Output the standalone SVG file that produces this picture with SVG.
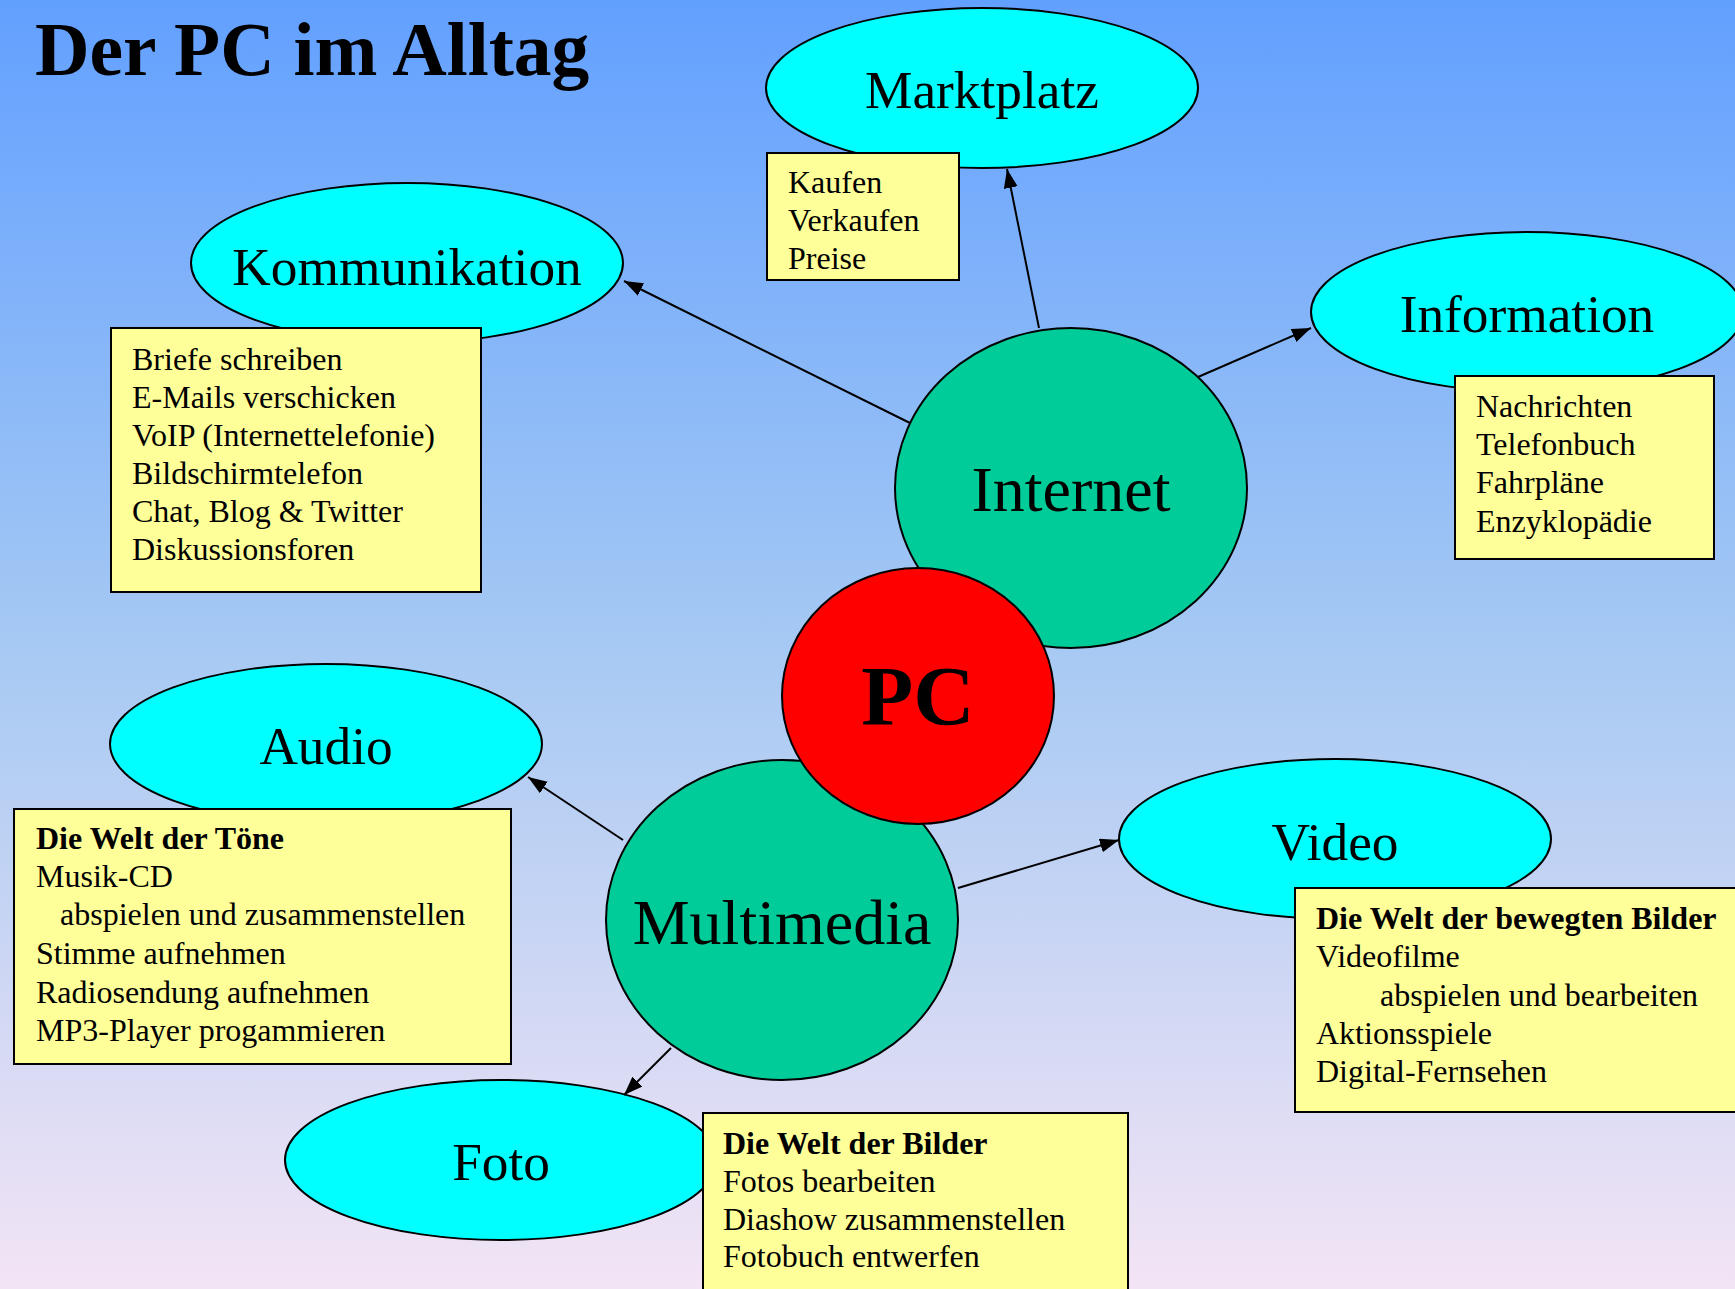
<svg xmlns="http://www.w3.org/2000/svg" width="1735" height="1289" viewBox="0 0 1735 1289">
<defs>
<linearGradient id="bg" x1="0" y1="0" x2="0" y2="1">
<stop offset="0" stop-color="#62A0FF"/>
<stop offset="0.5" stop-color="#A6C9F3"/>
<stop offset="1" stop-color="#F3E4F5"/>
</linearGradient>
<marker id="arr" markerUnits="userSpaceOnUse" markerWidth="22" markerHeight="16" refX="19" refY="7" orient="auto">
<path d="M0,0 L19,7 L0,14 z" fill="#000"/>
</marker>
<style>
.topic{fill:#00FFFF;stroke:#000;stroke-width:2}
.hub{fill:#00CC99;stroke:#000;stroke-width:2}
.pc{fill:#FF0000;stroke:#000;stroke-width:2}
.box{fill:#FFFF99;stroke:#000;stroke-width:2}
.lbl{font-family:"Liberation Serif","Times New Roman",serif;font-size:53.3px;fill:#000;text-anchor:middle}
.big{font-family:"Liberation Serif","Times New Roman",serif;font-size:64px;fill:#000;text-anchor:middle}
.txt{font-family:"Liberation Serif","Times New Roman",serif;font-size:32px;fill:#000}
.b{font-weight:bold}
.con{stroke:#000;stroke-width:2;fill:none;marker-end:url(#arr)}
</style>
</defs>
<rect x="0" y="0" width="1735" height="1289" fill="url(#bg)"/>
<text x="35" y="75" font-family="'Liberation Serif','Times New Roman',serif" font-size="75.5" font-weight="bold" fill="#000">Der PC im Alltag</text>

<g id="multimedia">
<ellipse class="hub" cx="782" cy="920" rx="176" ry="160"/>
<text class="big" x="782" y="944">Multimedia</text>
</g>
<g id="internet">
<ellipse class="hub" cx="1071" cy="488" rx="176" ry="160"/>
<text class="big" x="1071" y="511">Internet</text>
</g>
<g id="pc">
<ellipse class="pc" cx="918" cy="696" rx="136" ry="128"/>
<text x="918" y="725" font-family="'Liberation Serif','Times New Roman',serif" font-size="85" font-weight="bold" text-anchor="middle" fill="#000">PC</text>
</g>

<g id="marktplatz">
<ellipse class="topic" cx="982" cy="88" rx="216" ry="80"/>
<text class="lbl" x="982" y="108">Marktplatz</text>
<rect class="box" x="767" y="153" width="192" height="127"/>
<text class="txt" x="788" y="193">Kaufen</text>
<text class="txt" x="788" y="231">Verkaufen</text>
<text class="txt" x="788" y="269">Preise</text>
</g>

<g id="kommunikation">
<ellipse class="topic" cx="407" cy="263" rx="216" ry="80"/>
<text class="lbl" x="407" y="285">Kommunikation</text>
<rect class="box" x="111" y="328" width="370" height="264"/>
<text class="txt" x="132" y="370">Briefe schreiben</text>
<text class="txt" x="132" y="408">E-Mails verschicken</text>
<text class="txt" x="132" y="446">VoIP (Internettelefonie)</text>
<text class="txt" x="132" y="484">Bildschirmtelefon</text>
<text class="txt" x="132" y="522">Chat, Blog &amp; Twitter</text>
<text class="txt" x="132" y="560">Diskussionsforen</text>
</g>

<g id="information">
<ellipse class="topic" cx="1527" cy="312" rx="216" ry="80"/>
<text class="lbl" x="1527" y="332">Information</text>
<rect class="box" x="1455" y="376" width="259" height="183"/>
<text class="txt" x="1476" y="417">Nachrichten</text>
<text class="txt" x="1476" y="455">Telefonbuch</text>
<text class="txt" x="1476" y="493">Fahrpläne</text>
<text class="txt" x="1476" y="532">Enzyklopädie</text>
</g>

<g id="audio">
<ellipse class="topic" cx="326" cy="744" rx="216" ry="80"/>
<text class="lbl" x="326" y="764">Audio</text>
<rect class="box" x="14" y="809" width="497" height="255"/>
<text class="txt b" x="36" y="849">Die Welt der Töne</text>
<text class="txt" x="36" y="887">Musik-CD</text>
<text class="txt" x="60" y="925">abspielen und zusammenstellen</text>
<text class="txt" x="36" y="964">Stimme aufnehmen</text>
<text class="txt" x="36" y="1003">Radiosendung aufnehmen</text>
<text class="txt" x="36" y="1041">MP3-Player progammieren</text>
</g>

<g id="video">
<ellipse class="topic" cx="1335" cy="839" rx="216" ry="80"/>
<text class="lbl" x="1335" y="860">Video</text>
<rect class="box" x="1295" y="888" width="450" height="224"/>
<text class="txt b" x="1316" y="929">Die Welt der bewegten Bilder</text>
<text class="txt" x="1316" y="967">Videofilme</text>
<text class="txt" x="1380" y="1006">abspielen und bearbeiten</text>
<text class="txt" x="1316" y="1044">Aktionsspiele</text>
<text class="txt" x="1316" y="1082">Digital-Fernsehen</text>
</g>

<g id="foto">
<ellipse class="topic" cx="501" cy="1160" rx="216" ry="80"/>
<text class="lbl" x="501" y="1180">Foto</text>
<rect class="box" x="703" y="1113" width="425" height="190"/>
<text class="txt b" x="723" y="1154">Die Welt der Bilder</text>
<text class="txt" x="723" y="1192">Fotos bearbeiten</text>
<text class="txt" x="723" y="1230">Diashow zusammenstellen</text>
<text class="txt" x="723" y="1267">Fotobuch entwerfen</text>
</g>

<g id="connectors">
<line class="con" x1="910" y1="423" x2="624" y2="281"/>
<line class="con" x1="1039" y1="328" x2="1007" y2="169"/>
<line class="con" x1="1198" y1="377" x2="1311" y2="328"/>
<line class="con" x1="623" y1="840" x2="528" y2="777"/>
<line class="con" x1="958" y1="888" x2="1119" y2="840"/>
<line class="con" x1="671" y1="1048" x2="624" y2="1095"/>
</g>
</svg>
